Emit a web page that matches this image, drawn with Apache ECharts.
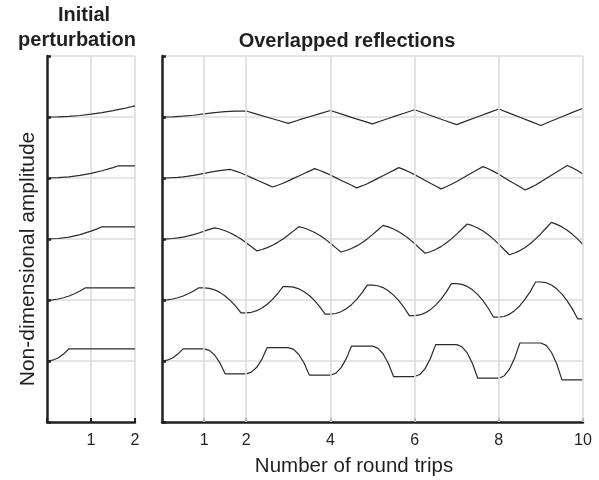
<!DOCTYPE html>
<html>
<head>
<meta charset="utf-8">
<script src="https://cdn.jsdelivr.net/npm/echarts@6/dist/echarts.min.js"></script>
<style>
  html, body { margin: 0; padding: 0; background: #fff; }
  #chart { width: 599px; height: 480px; }
</style>
</head>
<body>
<div id="chart"></div>
<script>
// baseline of each trace, top to bottom (one grid step apart)
var baselines = [300, 240, 180, 120, 60];

// left panel: initial perturbation, [round trips, deviation from baseline]
var pert1 = [[0,0],[0.25,0.2],[0.5,0.7],[0.75,1.5],[1,2.8],[1.25,4.3],[1.5,6.2],[1.75,8.4],[2,11]];
var pert2 = [[0,0],[0.25,0.3],[0.5,1.1],[0.75,2.6],[1,4.5],[1.25,7.1],[1.5,10.2],[1.625,12],[2,12]];
var pert3 = [[0,0],[0.25,0.5],[0.5,1.9],[0.75,4.3],[1,7.7],[1.125,9.7],[1.25,12],[2,12]];
var pert4 = [[0,0],[0.125,0.2],[0.25,1],[0.375,2.2],[0.5,3.9],[0.625,6.1],[0.75,8.8],[0.875,12],[2,12]];
var pert5 = [[0,0],[0.125,0.8],[0.25,3],[0.375,6.8],[0.5,12],[2,12]];

// right panel sample points (round trips)
var tFine = [0,0.125,0.25,0.375,0.5,0.625,0.75,0.875,
  1,1.125,1.25,1.375,1.5,1.625,1.75,1.875,
  2,2.125,2.25,2.375,2.5,2.625,2.75,2.875,
  3,3.125,3.25,3.375,3.5,3.625,3.75,3.875,
  4,4.125,4.25,4.375,4.5,4.625,4.75,4.875,
  5,5.125,5.25,5.375,5.5,5.625,5.75,5.875,
  6,6.125,6.25,6.375,6.5,6.625,6.75,6.875,
  7,7.125,7.25,7.375,7.5,7.625,7.75,7.875,
  8,8.125,8.25,8.375,8.5,8.625,8.75,8.875,
  9,9.125,9.25,9.375,9.5,9.625,9.75,9.875,
  10];
var tCoarse = [0,0.25,0.5,0.75,1,1.25,1.5,1.75,2,2.25,2.5,2.75,3,3.25,3.5,3.75,
  4,4.25,4.5,4.75,5,5.25,5.5,5.75,6,6.25,6.5,6.75,7,7.25,7.5,7.75,
  8,8.25,8.5,8.75,9,9.25,9.5,9.75,10];

// overlapped reflections, deviation from baseline
var refl1 = [0,0.2,0.8,1.7, 3,4.3,5.2,5.7, 5.9,2.8,-0.2,-3.2, -6.2,-2.9,0.2,3.3,
  6.4,3.1,-0.3,-3.5, -6.8,-3.2,0.3,3.7, 7.1,3.4,-0.3,-3.9, -7.5,-3.6,0.3,4.1,
  7.9,3.8,-0.3,-4.3, -8.3,-4,0.3,4.5, 8.6];
var refl2 = [0,0.1,0.3,0.6,1.1,1.8,2.6,3.5,
  4.6,5.6,6.5,7.3,7.9,8.4,6.8,4.9,
  2.7,0.4,-1.9,-4.2,-6.5,-8.8,-7.1,-5.1,
  -2.8,-0.4,2,4.4,6.8,9.2,7.4,5.3,
  2.9,0.4,-2.2,-4.7,-7.2,-9.7,-7.8,-5.6,
  -3.1,-0.4,2.3,4.9,7.5,10.2,8.2,5.9,
  3.3,0.5,-2.4,-5.2,-7.9,-10.7,-8.6,-6.2,
  -3.4,-0.5,2.5,5.4,8.3,11.2,9.1,6.5,
  3.6,0.5,-2.6,-5.7,-8.7,-11.8,-9.5,-6.9,
  -3.8,-0.6,2.7,6,9.1,12.3,10,7.2,
  3.9];
var refl3 = [0,0.1,0.5,1.1,1.9,3,4.3,5.9,
  7.7,9.5,11,9.8,8.1,5.9,3.1,0,
  -3.7,-7.7,-11.6,-10.3,-8.5,-6.2,-3.3,0,
  3.9,8,12.1,10.8,8.9,6.4,3.4,-0.1,
  -4.1,-8.5,-12.8,-11.3,-9.3,-6.8,-3.6,0.1,
  4.3,8.9,13.4,11.9,9.8,7.1,3.8,-0.1,
  -4.5,-9.3,-14,-12.5,-10.3,-7.5,-4,0.1,
  4.8,9.8,14.8,13.1,10.8,7.9,4.2,-0.1,
  -5,-10.3,-15.5,-13.8,-11.4,-8.3,-4.4,0.1,
  5.2,10.8,16.3,14.4,11.9,8.6,4.6,-0.1,
  -5.5];
var refl4 = [0,0.2,1,2.2,3.9,6.1,8.8,12,
  12,11.5,10,7.5,4,-0.6,-6.1,-12.6,
  -12.6,-12.1,-10.5,-7.9,-4.2,0.6,6.4,13.2,
  13.2,12.6,11,8.2,4.4,-0.6,-6.7,-13.9,
  -13.9,-13.3,-11.6,-8.7,-4.6,0.6,7,14.6,
  14.6,14,12.2,9.1,4.8,-0.7,-7.4,-15.3,
  -15.3,-14.7,-12.7,-9.5,-5,0.7,7.8,16.1,
  16.1,15.4,13.4,10,5.3,-0.7,-8.1,-16.9,
  -16.9,-16.2,-14.1,-10.5,-5.6,0.8,8.5,17.7,
  17.7,17,14.7,11,5.8,-0.8,-9,-18.6,
  -18.6];
var refl5 = [0,0.8,3,6.8,12,12,12,12,
  12,10.5,5.9,-1.8,-12.6,-12.6,-12.6,-12.6,
  -12.6,-11,-6.2,1.9,13.2,13.2,13.2,13.2,
  13.2,11.5,6.4,-2,-13.9,-13.9,-13.9,-13.9,
  -13.9,-12.1,-6.8,2.1,14.6,14.6,14.6,14.6,
  14.6,12.7,7.1,-2.2,-15.3,-15.3,-15.3,-15.3,
  -15.3,-13.3,-7.5,2.4,16.1,16.1,16.1,16.1,
  16.1,14,7.9,-2.5,-16.9,-16.9,-16.9,-16.9,
  -16.9,-14.7,-8.3,2.6,17.7,17.7,17.7,17.7,
  17.7,15.4,8.6,-2.7,-18.6,-18.6,-18.6,-18.6,
  -18.6];

var rightTicks = [1, 2, 4, 6, 8, 10];
var rightGrid = [1, 2, 4, 6, 8, 10];

var ink = '#231f20';
var gridGray = '#dcdcdc';
var font = '"Liberation Sans", Arial, Helvetica, sans-serif';

var perts = [pert1, pert2, pert3, pert4, pert5];
var refls = [refl1, refl2, refl3, refl4, refl5];

function lineSeries(data, axis) {
  return {
    type: 'line',
    xAxisIndex: axis,
    yAxisIndex: axis,
    data: data,
    symbol: 'none',
    z: 3,
    silent: true,
    lineStyle: { color: '#2a2a2a', width: 1.2 }
  };
}

var series = [];
perts.forEach(function (p, i) {
  series.push(lineSeries(p.map(function (d) { return [d[0], baselines[i] + d[1]]; }), 0));
});
refls.forEach(function (r, i) {
  var t = r.length === tFine.length ? tFine : tCoarse;
  series.push(lineSeries(r.map(function (v, j) { return [t[j], baselines[i] + v]; }), 1));
});
// vertical grid lines of the right panel
series.push({
  type: 'line',
  xAxisIndex: 1,
  yAxisIndex: 1,
  data: [],
  z: 1,
  markLine: {
    silent: true,
    symbol: 'none',
    animation: false,
    label: { show: false },
    lineStyle: { color: gridGray, width: 1.6, type: 'solid' },
    data: rightGrid.map(function (v) { return { xAxis: v }; })
  }
});

function yAxis(idx) {
  return {
    gridIndex: idx,
    type: 'value',
    min: 0,
    max: 360,
    interval: 60,
    axisLine: { show: true, lineStyle: { color: ink, width: 2.5 } },
    axisTick: { show: true, inside: true, length: 4, lineStyle: { color: ink, width: 2.5 } },
    axisLabel: { show: false },
    splitLine: { show: true, showMinLine: false, lineStyle: { color: gridGray, width: 1.6 } }
  };
}

var labelStyle = { color: ink, fontSize: 16, fontFamily: font, margin: 11 };

var option = {
  backgroundColor: '#fff',
  animation: false,
  grid: [
    { left: 47, top: 56, width: 88, height: 366 },
    { left: 162, top: 56, width: 421, height: 366 }
  ],
  xAxis: [{
    gridIndex: 0,
    type: 'value',
    min: 0,
    max: 2,
    interval: 1,
    axisLine: { onZero: false, lineStyle: { color: ink, width: 2.5 } },
    axisTick: { inside: true, length: 4, lineStyle: { color: ink, width: 2 } },
    axisLabel: Object.assign({}, labelStyle, {
      formatter: function (v) { return v === 0 ? '' : v; }
    }),
    splitLine: { show: true, showMinLine: false, lineStyle: { color: gridGray, width: 1.6 } }
  }, {
    gridIndex: 1,
    type: 'value',
    min: 0,
    max: 10,
    interval: 1,
    axisLine: { onZero: false, lineStyle: { color: ink, width: 2.5 } },
    axisTick: { inside: true, length: 4, customValues: rightTicks, lineStyle: { color: ink, width: 2 } },
    axisLabel: Object.assign({}, labelStyle, { customValues: rightTicks }),
    splitLine: { show: false }
  }],
  yAxis: [yAxis(0), yAxis(1)],
  graphic: [
    { type: 'text', x: 84, y: 15, style: { text: 'Initial', font: 'bold 20px ' + font, fill: ink, textAlign: 'center', textVerticalAlign: 'middle' } },
    { type: 'text', x: 77, y: 40, style: { text: 'perturbation', font: 'bold 20px ' + font, fill: ink, textAlign: 'center', textVerticalAlign: 'middle' } },
    { type: 'text', x: 347, y: 41, style: { text: 'Overlapped reflections', font: 'bold 20px ' + font, fill: ink, textAlign: 'center', textVerticalAlign: 'middle' } },
    { type: 'text', x: 354, y: 466, style: { text: 'Number of round trips', font: '20.5px ' + font, fill: ink, textAlign: 'center', textVerticalAlign: 'middle' } },
    { type: 'text', x: 28, y: 259, rotation: Math.PI / 2, style: { text: 'Non-dimensional amplitude', font: '21px ' + font, fill: ink, textAlign: 'center', textVerticalAlign: 'middle' } }
  ],
  series: series
};

var myChart = echarts.init(document.getElementById('chart'));
myChart.setOption(option);
</script>
</body>
</html>
